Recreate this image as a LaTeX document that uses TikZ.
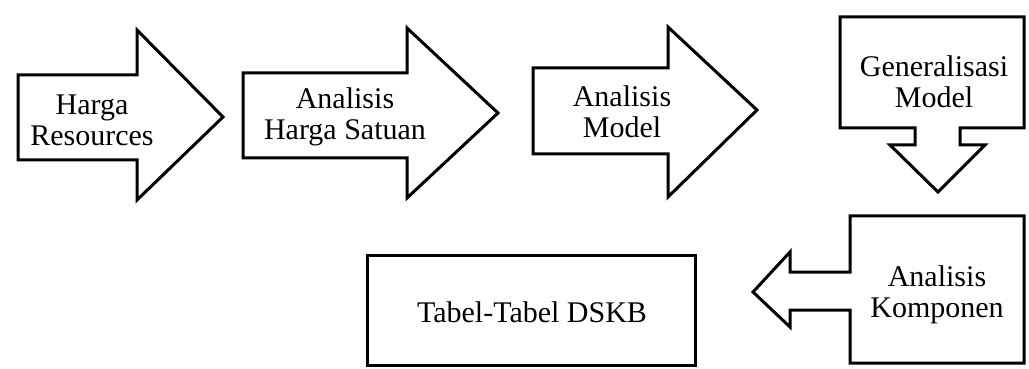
\documentclass[tikz,border=0pt]{standalone}
\usepackage{fontspec}
\setmainfont{Liberation Serif}
\begin{document}
\begin{tikzpicture}[x=0.5pt,y=-0.5pt,
  shapeline/.style={draw=black,line width=1.5pt,line join=miter,fill=white},
  lbl/.style={align=center,font=\fontsize{15}{15.5}\selectfont,inner sep=0pt}]
\useasboundingbox (0,0) rectangle (1029,369);
% arrow 1
\draw[shapeline] (18,75) -- (137,75) -- (137,30) -- (223,117) -- (137,200) -- (137,160) -- (18,160) -- cycle;
\node[lbl] (a1) at (92,120) {Harga\\Resources};
% arrow 2
\draw[shapeline] (243,73) -- (407,73) -- (407,28) -- (498,113) -- (407,198) -- (407,158) -- (243,158) -- cycle;
\node[lbl] (a2) at (345,117) {Analisis\\Harga Satuan};
% arrow 3
\draw[shapeline] (533,68) -- (668,68) -- (668,27) -- (757,110) -- (668,197) -- (668,154) -- (533,154) -- cycle;
\node[lbl] (a3) at (622,112) {Analisis\\Model};
% down callout
\draw[shapeline] (840,17) -- (1024,17) -- (1024,128) -- (960,128) -- (960,145) -- (985,145) -- (938,192) -- (890,145) -- (915,145) -- (915,128) -- (840,128) -- cycle;
\node[lbl] (g) at (934,82) {Generalisasi\\Model};
% left callout
\draw[shapeline] (850,216) -- (1024,216) -- (1024,363) -- (850,363) -- (850,310) -- (790,310) -- (790,327) -- (753,292) -- (790,252) -- (790,272) -- (850,272) -- cycle;
\node[lbl] (k) at (937,295) {Analisis\\Komponen};
% table box
\draw[shapeline] (367,255) rectangle (695,365);
\node[lbl] (t) at (532,312) {Tabel-Tabel DSKB};
\end{tikzpicture}
\end{document}
